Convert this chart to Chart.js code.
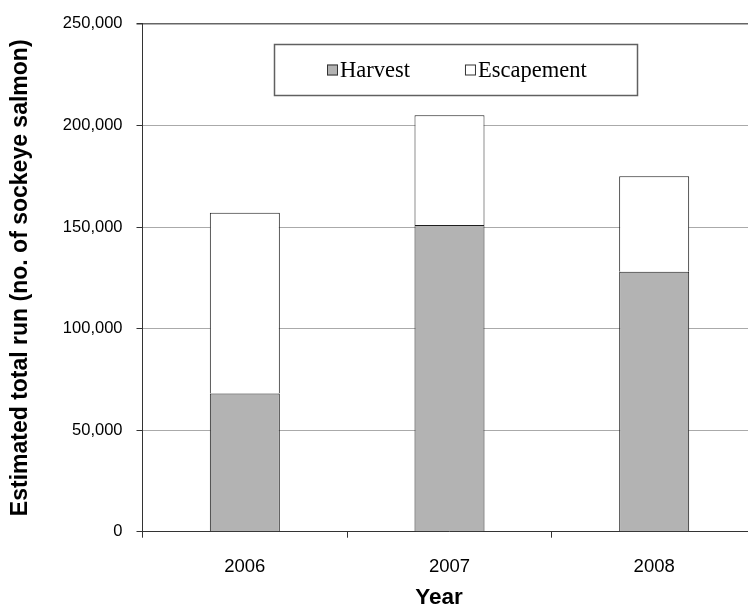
<!DOCTYPE html>
<html>
<head>
<meta charset="utf-8">
<script src="https://cdn.jsdelivr.net/npm/chart.js@4/dist/chart.umd.min.js"></script>
<style>
  html, body { margin: 0; padding: 0; background: #fff; overflow: hidden; }
  #wrap { width: 748px; height: 609px; overflow: hidden; position: relative; }
  canvas { display: block; }
</style>
</head>
<body>
<div id="wrap"><canvas id="c" width="770" height="609"></canvas></div>
<script>
// Sockeye salmon run by year: harvest and escapement (stacked)
const years = ['2006', '2007', '2008'];
const harvest = [68000, 151000, 128000];
const escapement = [89000, 54000, 47000];
const yTicks = [0, 50000, 100000, 150000, 200000, 250000];

const seriesNames = ['Harvest', 'Escapement'];
const seriesFill = ['#b3b3b3', '#ffffff'];
const edge = '#1e1e1e';

// Boxed legend drawn inside the plot area, Times-style type
const boxedLegend = {
  id: 'boxedLegend',
  afterDraw(chart) {
    const ctx = chart.ctx;
    ctx.save();
    ctx.strokeStyle = '#606060';
    ctx.lineWidth = 1.5;
    ctx.strokeRect(274.5, 44.5, 363, 51);
    ctx.font = '22.5px "Liberation Serif", "Times New Roman", serif';
    ctx.textBaseline = 'middle';
    ctx.textAlign = 'left';
    let x = 327;
    const cy = 70;
    chart.data.datasets.forEach((ds) => {
      ctx.fillStyle = ds.backgroundColor;
      ctx.fillRect(x, cy - 5.5, 11, 11);
      ctx.strokeStyle = '#333';
      ctx.lineWidth = 1;
      ctx.strokeRect(x + 0.5, cy - 5, 10, 10);
      ctx.fillStyle = '#000';
      ctx.fillText(ds.label, x + 13, cy + 1);
      x += 13 + ctx.measureText(ds.label).width + 55;
    });
    // x-axis title
    ctx.font = 'bold 22.5px "Liberation Sans", Arial, sans-serif';
    ctx.textAlign = 'center';
    ctx.fillText('Year', 439, 598);
    ctx.restore();
  }
};

new Chart(document.getElementById('c'), {
  type: 'bar',
  data: {
    labels: years,
    datasets: [
      {
        label: seriesNames[0],
        data: harvest,
        backgroundColor: seriesFill[0],
        borderColor: edge,
        borderWidth: 1,
        borderSkipped: 'start'
      },
      {
        label: seriesNames[1],
        data: escapement,
        backgroundColor: seriesFill[1],
        borderColor: edge,
        borderWidth: 1,
        borderSkipped: 'start'
      }
    ]
  },
  options: {
    responsive: false,
    animation: false,
    devicePixelRatio: 1,
    layout: { padding: { top: 23.3, right: 13.5, left: 0, bottom: 0 } },
    datasets: { bar: { categoryPercentage: 0.342, barPercentage: 1 } },
    plugins: {
      legend: { display: false },
      tooltip: { enabled: false }
    },
    scales: {
      x: {
        stacked: true,
        grid: { drawOnChartArea: false, drawTicks: true, tickLength: 6, tickColor: '#333', offset: true },
        border: { color: '#333', width: 1 },
        ticks: {
          color: '#000',
          padding: 18,
          font: { family: '"Liberation Sans", Arial, sans-serif', size: 18.5 }
        },
        afterFit(scale) { scale.height = 77.3; }
      },
      y: {
        stacked: true,
        min: 0,
        max: 250000,
        afterBuildTicks(scale) { scale.ticks = yTicks.map(v => ({ value: v })); },
        grid: {
          color: (c) => (c.tick && c.tick.value === 250000 ? '#666' : '#aaaaaa'),
          lineWidth: (c) => (c.tick && c.tick.value === 250000 ? 1.5 : 1),
          tickLength: 6,
          tickColor: '#333'
        },
        border: { color: '#333', width: 1 },
        ticks: {
          color: '#000',
          padding: 14,
          font: { family: '"Liberation Sans", Arial, sans-serif', size: 16.5 },
          callback: (v) => Number(v).toLocaleString('en-US')
        },
        title: {
          display: true,
          text: 'Estimated total run (no. of sockeye salmon)',
          color: '#000',
          font: { family: '"Liberation Sans", Arial, sans-serif', size: 23, weight: 'bold', lineHeight: 1.2 },
          padding: { top: 7, bottom: 0 }
        },
        afterFit(scale) { scale.width = 142.5; }
      }
    }
  },
  plugins: [boxedLegend]
});
</script>
</body>
</html>
